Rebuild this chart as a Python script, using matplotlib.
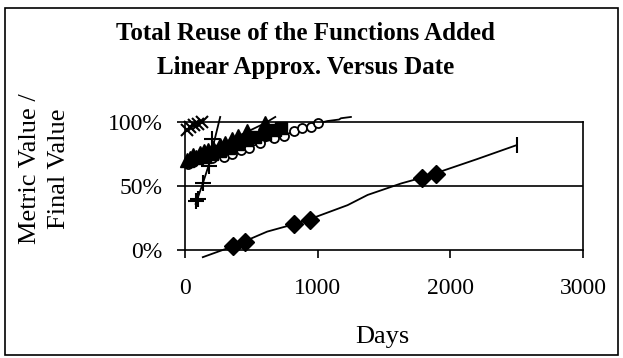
import matplotlib
matplotlib.use('Agg')
import matplotlib.pyplot as plt
from matplotlib.patches import Rectangle
from matplotlib.ticker import PercentFormatter

plt.rcParams['font.family'] = ['Liberation Serif', 'DejaVu Serif']

# diamonds: measured points and their approximation line
dia_days = [361, 455, 818, 939, 1785, 1889]
dia_vals = [0.031, 0.065, 0.203, 0.234, 0.56, 0.594]
dia_fit_days = [134, 361, 619, 818, 939, 1225, 1376, 1629, 1785, 1889, 2200, 2500]
dia_fit_vals = [-0.057, 0.028, 0.143, 0.20, 0.24, 0.35, 0.43, 0.52, 0.565, 0.60, 0.71, 0.82]

# plus signs
plus_days = [83, 101, 134, 184, 202]
plus_vals = [0.385, 0.40, 0.526, 0.66, 0.87]
plus_fit_days = [80, 134, 184, 220, 265]
plus_fit_vals = [0.36, 0.52, 0.68, 0.85, 1.04]

# crosses
x_days = [15, 40, 70, 100, 125]
x_vals = [0.94, 0.96, 0.975, 0.985, 1.0]

# triangles
tri_days = [15, 40, 60, 85, 110, 140, 170, 210, 260, 300, 354, 400, 467, 600]
tri_vals = [0.70, 0.72, 0.74, 0.73, 0.76, 0.77, 0.78, 0.80, 0.82, 0.84, 0.87, 0.89, 0.93, 0.99]
tri_fit_days = [0, 300, 600, 680]
tri_fit_vals = [0.70, 0.84, 0.99, 1.04]

# squares
sq_days = [150, 200, 260, 330, 400, 470, 530, 600, 680, 720]
sq_vals = [0.73, 0.75, 0.77, 0.80, 0.83, 0.86, 0.885, 0.91, 0.94, 0.95]

# open circles
circ_days = [25, 60, 120, 200, 290, 354, 420, 480, 565, 669, 745, 820, 884, 947, 1002]
circ_vals = [0.67, 0.69, 0.71, 0.72, 0.73, 0.75, 0.78, 0.80, 0.84, 0.875, 0.89, 0.93, 0.95, 0.965, 0.99]
circ_fit_days = [0, 500, 1002, 1073, 1161, 1175, 1250]
circ_fit_vals = [0.67, 0.81, 0.99, 1.008, 1.02, 1.03, 1.04]

fig = plt.figure(figsize=(6.23, 3.58), dpi=100)
fig.patches.append(Rectangle((0.008, 0.008), 0.984, 0.97, transform=fig.transFigure,
                             fill=False, edgecolor='black', linewidth=1.2))
ax = fig.add_axes([0.297, 0.302, 0.639, 0.357])

k = dict(color='black', clip_on=False)
ax.plot(dia_fit_days, dia_fit_vals, lw=1.3, **k)
ax.plot(dia_days, dia_vals, 'D', ms=9, **k)
ax.plot([2500], [0.82], '|', ms=12, mew=1.5, **k)
ax.plot(plus_fit_days, plus_fit_vals, lw=1.3, **k)
ax.plot(plus_days, plus_vals, '+', ms=11, mew=1.5, **k)
ax.plot(x_days, x_vals, 'x', ms=9, mew=1.5, **k)
ax.plot(tri_fit_days, tri_fit_vals, lw=1.3, **k)
ax.plot(circ_fit_days, circ_fit_vals, lw=1.3, **k)
ax.plot(circ_days, circ_vals, 'o', ms=6.5, mfc='white', mew=1.3, **k)
ax.plot(sq_days, sq_vals, 's', ms=8, **k)
ax.plot(tri_days, tri_vals, '^', ms=10, **k)

ax.set_xlim(0, 3000)
ax.set_ylim(0, 1)
ax.set_xticks([0, 1000, 2000, 3000])
ax.set_yticks([0, 0.5, 1])
ax.yaxis.set_major_formatter(PercentFormatter(1.0, decimals=0))
ax.axhline(0.5, color='black', lw=1.2)
for s in ax.spines.values():
    s.set_linewidth(1.2)
ax.tick_params(direction='out', length=6, width=1.2, labelsize=17, pad=10)
ax.tick_params(axis='x', pad=14)

fig.text(0.49, 0.86, 'Total Reuse of the Functions Added\nLinear Approx. Versus Date',
         ha='center', va='center', fontsize=18, fontweight='bold', linespacing=1.6)
fig.text(0.072, 0.53, 'Metric Value /\nFinal Value', rotation=90,
         ha='center', va='center', fontsize=19, linespacing=1.4)
fig.text(0.613, 0.059, 'Days', ha='center', va='center', fontsize=19)

fig.savefig('out.png', dpi=100)
